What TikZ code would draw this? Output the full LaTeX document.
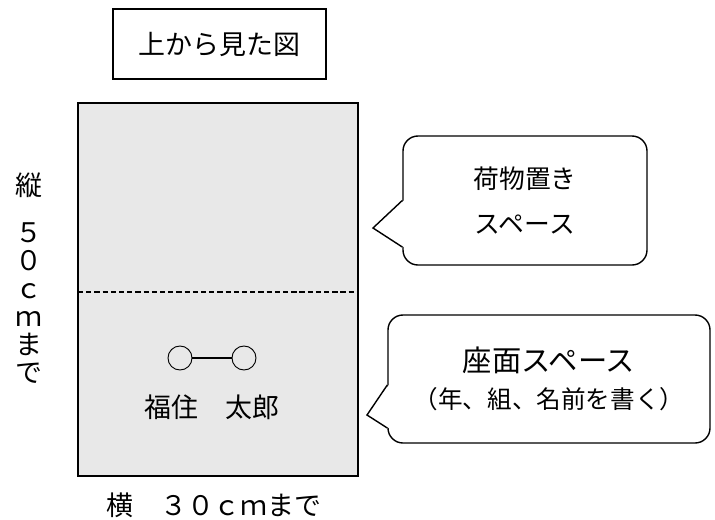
\documentclass[tikz,border=0pt]{standalone}
\usepackage{fontspec}
\setmainfont{Noto Sans CJK JP}
\usetikzlibrary{calc}

\begin{document}
\begin{tikzpicture}[x=0.03cm,y=-0.03cm,
        box/.style={draw,line width=1pt},
        bubble/.style={draw,line width=1.2pt,rounded corners=0.45cm,fill=white},
        lbl/.style={font=\fontsize{23}{28}\selectfont}]
        \useasboundingbox (0,0) rectangle (715,519);

        \node[box,lbl,minimum width=6.39cm,minimum height=2.1cm] at (219.5,44)(title){上から見た図};
        \node[box,fill=gray!18,minimum width=8.4cm,minimum height=11.19cm] at (218,289.5)(seat){};
        \coordinate (dl) at (78,292);
        \coordinate (dr) at (358,292);
        \draw[line width=1pt,dash pattern=on 4.5pt off 2.5pt] (dl) -- (dr);

        \node[circle,draw,line width=0.8pt,minimum size=0.72cm,inner sep=0pt] at (180,358)(c1){};
        \node[circle,draw,line width=0.8pt,minimum size=0.72cm,inner sep=0pt] at (244,358)(c2){};
        \draw[line width=0.9pt] (c1) -- (c2);
        \node[lbl] at (212,407)(name){福住　太郎};

        \node[lbl] at (29,185)(tate){縦};
        \node[lbl,align=center,font=\fontsize{23}{23.8}\selectfont] at (29,303)(len){５\\０\\ｃ\\ｍ\\ま\\で};
        \node[lbl] at (214,505)(yoko){横　３０ｃｍまで};

        \node[bubble,align=center,minimum width=7.32cm,minimum height=3.87cm,font=\fontsize{22}{38}\selectfont] at (525,200.5)(b1){荷物置き\\スペース};
        \node[bubble,align=center,minimum width=9.66cm,minimum height=3.84cm,font=\fontsize{21}{32}\selectfont] at (549,379)(b2){{\fontsize{25}{32}\selectfont 座面スペース}\\（年、組、名前を書く）};

        \coordinate (t1) at (373,228);
        \coordinate (t2) at (367,415);
        \path[fill=white] ($(b1.west)+(1.5,0)$) -- (t1) -- ($(b1.west)+(1.5,46.5)$) -- cycle;
        \draw[line width=1.2pt] ($(b1.west)+(0,0)$) -- (t1) -- ($(b1.west)+(0,46.5)$);
        \path[fill=white] ($(b2.west)+(1.5,6)$) -- (t2) -- ($(b2.west)+(1.5,49)$) -- cycle;
        \draw[line width=1.2pt] ($(b2.west)+(0,6)$) -- (t2) -- ($(b2.west)+(0,49)$);
    \end{tikzpicture}
\end{document}
